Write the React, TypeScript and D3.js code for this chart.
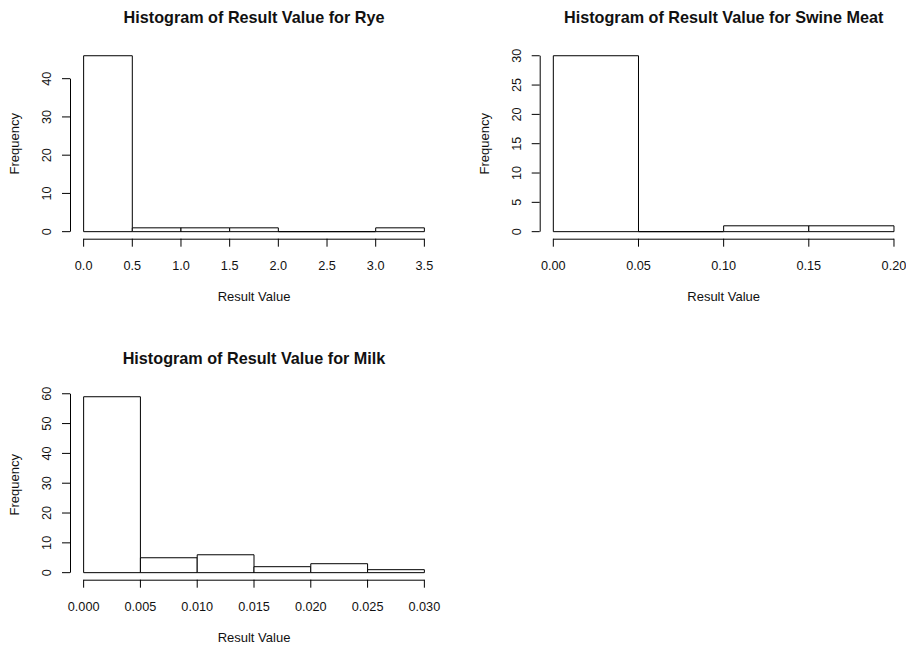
import React, { useEffect, useRef } from 'react'
import * as d3 from 'd3'

// bin edges and counts
const ryeBreaks = [0, 0.5, 1, 1.5, 2, 2.5, 3, 3.5]
const ryeCounts = [46, 1, 1, 1, 0, 0, 1]
const ryeXTicks = ['0.0', '0.5', '1.0', '1.5', '2.0', '2.5', '3.0', '3.5']
const ryeYTicks = [0, 10, 20, 30, 40]

const swineBreaks = [0, 0.05, 0.1, 0.15, 0.2]
const swineCounts = [30, 0, 1, 1]
const swineXTicks = ['0.00', '0.05', '0.10', '0.15', '0.20']
const swineYTicks = [0, 5, 10, 15, 20, 25, 30]

const milkBreaks = [0, 0.005, 0.01, 0.015, 0.02, 0.025, 0.03]
const milkCounts = [59, 5, 6, 2, 3, 1]
const milkXTicks = ['0.000', '0.005', '0.010', '0.015', '0.020', '0.025', '0.030']
const milkYTicks = [0, 10, 20, 30, 40, 50, 60]

const FONT = '"Liberation Sans", Arial, Helvetica, sans-serif'

const panels = [
  { title: 'Histogram of Result Value for Rye', breaks: ryeBreaks, counts: ryeCounts, xTicks: ryeXTicks, yTicks: ryeYTicks, box: { left: 70, right: 438, top: 48.7, bottom: 238.7 } },
  { title: 'Histogram of Result Value for Swine Meat', breaks: swineBreaks, counts: swineCounts, xTicks: swineXTicks, yTicks: swineYTicks, box: { left: 539.7, right: 907.6, top: 48.7, bottom: 238.7 } },
  { title: 'Histogram of Result Value for Milk', breaks: milkBreaks, counts: milkCounts, xTicks: milkXTicks, yTicks: milkYTicks, box: { left: 70, right: 438, top: 389.7, bottom: 579.7 } },
]

export default function App() {
  const ref = useRef<SVGSVGElement>(null)

  useEffect(() => {
    const svg = d3.select(ref.current)
    svg.selectAll('*').remove()

    panels.forEach(p => {
      const { left, right, top, bottom } = p.box
      const lo = p.breaks[0]
      const hi = p.breaks[p.breaks.length - 1]
      const padX = (hi - lo) * 0.04
      const maxC = d3.max(p.counts) as number
      const x = d3.scaleLinear().domain([lo - padX, hi + padX]).range([left, right])
      const y = d3.scaleLinear().domain([-maxC * 0.04, maxC * 1.04]).range([bottom, top])

      const g = svg.append('g')

      // bars as closed paths so empty bins still show a flat line
      g.selectAll('path.bar')
        .data(p.counts)
        .join('path')
        .attr('class', 'bar')
        .attr('d', (d, i) => {
          const x0 = x(p.breaks[i]), x1 = x(p.breaks[i + 1])
          const y0 = y(0), y1 = y(d)
          return `M${x0},${y0}L${x0},${y1}L${x1},${y1}L${x1},${y0}Z`
        })
        .attr('fill', 'white')
        .attr('stroke', 'black')
        .attr('stroke-width', 1)

      // x axis
      const xa = g.append('g').attr('stroke', 'black')
      xa.append('line')
        .attr('x1', x(lo)).attr('x2', x(hi))
        .attr('y1', bottom + 0.5).attr('y2', bottom + 0.5)
      xa.selectAll('line.tick')
        .data(p.breaks.filter((b, i) => i < p.xTicks.length))
        .join('line')
        .attr('class', 'tick')
        .attr('x1', d => x(d)).attr('x2', d => x(d))
        .attr('y1', bottom).attr('y2', bottom + 8)
      g.selectAll('text.xt')
        .data(p.xTicks)
        .join('text')
        .attr('class', 'xt')
        .attr('x', (d, i) => x(p.breaks[i]))
        .attr('y', bottom + 31.5)
        .attr('text-anchor', 'middle')
        .attr('font-family', FONT)
        .attr('font-size', 12.7)
        .attr('fill', '#111')
        .text(d => d)

      // y axis
      const ya = g.append('g').attr('stroke', 'black')
      ya.append('line')
        .attr('x1', left + 0.5).attr('x2', left + 0.5)
        .attr('y1', y(0)).attr('y2', y(p.yTicks[p.yTicks.length - 1]))
      ya.selectAll('line.tick')
        .data(p.yTicks)
        .join('line')
        .attr('class', 'tick')
        .attr('x1', left - 8).attr('x2', left)
        .attr('y1', d => y(d)).attr('y2', d => y(d))
      g.selectAll('text.yt')
        .data(p.yTicks)
        .join('text')
        .attr('class', 'yt')
        .attr('transform', d => `translate(${left - 19},${y(d)}) rotate(-90)`)
        .attr('text-anchor', 'middle')
        .attr('font-family', FONT)
        .attr('font-size', 12.7)
        .attr('fill', '#111')
        .text(d => d)

      // titles
      g.append('text')
        .attr('x', (left + right) / 2)
        .attr('y', top - 26)
        .attr('text-anchor', 'middle')
        .attr('font-family', FONT)
        .attr('font-weight', 'bold')
        .attr('font-size', 16.2)
        .attr('fill', '#111')
        .text(p.title)
      g.append('text')
        .attr('x', (left + right) / 2)
        .attr('y', bottom + 62)
        .attr('text-anchor', 'middle')
        .attr('font-family', FONT)
        .attr('font-size', 13)
        .attr('fill', '#111')
        .text('Result Value')
      g.append('text')
        .attr('transform', `translate(${left - 51},${(top + bottom) / 2}) rotate(-90)`)
        .attr('text-anchor', 'middle')
        .attr('font-family', FONT)
        .attr('font-size', 13)
        .attr('fill', '#111')
        .text('Frequency')
    })
  }, [])

  return (
    <svg ref={ref} width={906} height={645}
      style={{ position: 'absolute', left: 0, top: 0, background: 'white' }} />
  )
}
